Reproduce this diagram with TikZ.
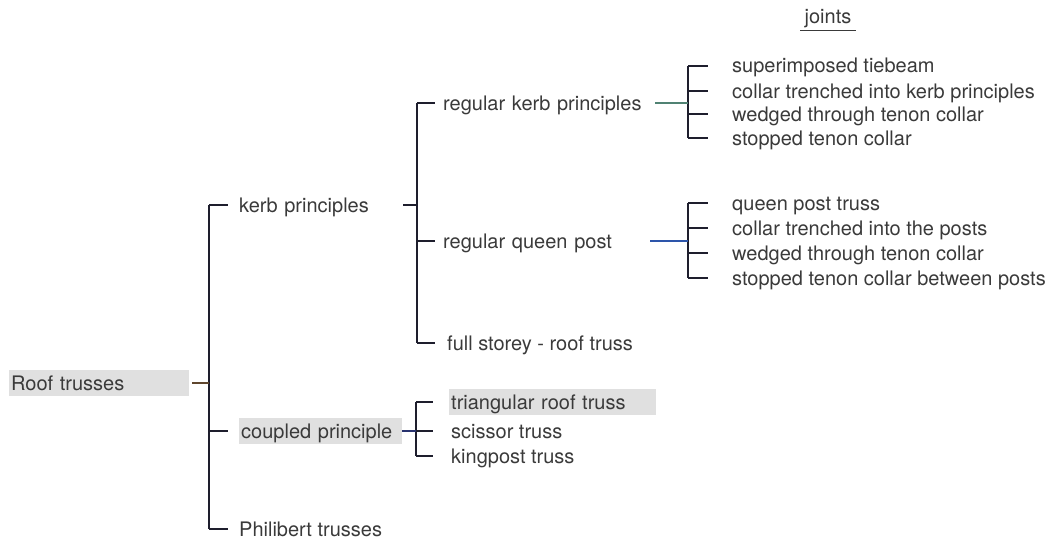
\documentclass[tikz,border=0pt]{standalone}
\usepackage{fontspec}
\setmainfont{TeX Gyre Heros}
\usetikzlibrary{calc}
\definecolor{TextClr}{RGB}{58,58,58}
\definecolor{LineClr}{RGB}{30,30,45}
\definecolor{BoxClr}{RGB}{224,224,224}
\definecolor{BrownClr}{RGB}{95,70,45}
\definecolor{TealClr}{RGB}{80,130,115}
\definecolor{BlueClr}{RGB}{45,85,170}
\definecolor{NavyClr}{RGB}{40,50,110}

\begin{document}
\begin{tikzpicture}[x=1pt,y=-1pt,
  lbl/.style={anchor=west,inner xsep=0pt,inner ysep=3pt,text=TextClr,
    font=\fontsize{20}{22}\selectfont,text height=17pt,text depth=3pt},
  shaded/.style={lbl,fill=BoxClr,inner xsep=2pt,align=left},
  spine/.style={line width=1.3pt,color=LineClr},
  twig/.style={line width=1.3pt,color=LineClr,shorten >=#1}]
\useasboundingbox (0,0) rectangle (1059,543);

% Spines of the brackets.
\coordinate (sp0) at (209,0);
\coordinate (sp1) at (417,0);
\coordinate (sp2) at (416,0);
\coordinate (sp3) at (688,0);

% Root and first level.
\node[shaded,text width=176pt] (root) at (9,383) {Roof trusses};
\node[lbl,text width=164pt] (kerb) at (239,205) {kerb principles};
\node[shaded,text width=159pt] (coupled) at (239,431) {coupled principle};
\node[lbl] (phil) at (239,529) {Philibert trusses};

% Kerb principles.
\node[lbl,text width=212pt] (rkp) at (443,103) {regular kerb principles};
\node[lbl,text width=207pt] (rqp) at (443,241) {regular queen post};
\node[lbl] (full) at (447,343) {full storey - roof truss};

% Coupled principle.
\node[shaded,text width=203pt] (tri) at (449,402) {triangular roof truss};
\node[lbl] (sci) at (451,431) {scissor truss};
\node[lbl] (king) at (451,456) {kingpost truss};

% Joints.
\node[lbl] (j1) at (732,66) {superimposed tiebeam};
\node[lbl] (j2) at (732,91) {collar trenched into kerb principles};
\node[lbl] (j3) at (732,114) {wedged through tenon collar};
\node[lbl] (j4) at (732,138) {stopped tenon collar};
\node[lbl] (q1) at (732,203) {queen post truss};
\node[lbl] (q2) at (732,228) {collar trenched into the posts};
\node[lbl] (q3) at (732,253) {wedged through tenon collar};
\node[lbl] (q4) at (732,278) {stopped tenon collar between posts};
\node[lbl] (joints) at (800,17) {\underline{\hphantom{j}joints\hphantom{j}}};

% Draw the brackets.
\draw[spine] (sp0 |- kerb.west) -- (sp0 |- phil.west);
\draw[spine] (sp1 |- rkp.west) -- (sp1 |- full.west);
\draw[spine] (sp2 |- tri.west) -- (sp2 |- king.west);
\draw[spine] (sp3 |- j1.west) -- (sp3 |- j4.west);
\draw[spine] (sp3 |- q1.west) -- (sp3 |- q4.west);

\foreach \n in {kerb,coupled,phil}
  \draw[twig=11pt] (sp0 |- \n.west) -- (\n.west);
\foreach \n in {rkp,rqp}
  \draw[twig=8pt] (sp1 |- \n.west) -- (\n.west);
\draw[twig=12pt] (sp1 |- full.west) -- (full.west);
\draw[twig=16pt] (sp2 |- tri.west) -- (tri.west);
\foreach \n in {sci,king}
  \draw[twig=18pt] (sp2 |- \n.west) -- (\n.west);
\foreach \n in {j1,j2,j3,j4,q1,q2,q3,q4}
  \draw[twig=24pt] (sp3 |- \n.west) -- (\n.west);

% Links from a parent to its bracket.
\draw[spine,color=BrownClr,shorten <=3pt] (root.east) -- (sp0 |- root.east);
\draw[spine] (kerb.east) -- (sp1 |- kerb.east);
\draw[spine,color=NavyClr] (coupled.east) -- (sp2 |- coupled.east);
\draw[spine,color=TealClr] (rkp.east) -- (sp3 |- rkp.east);
\draw[spine,color=BlueClr] (rqp.east) -- (sp3 |- rqp.east);

\end{tikzpicture}
\end{document}
